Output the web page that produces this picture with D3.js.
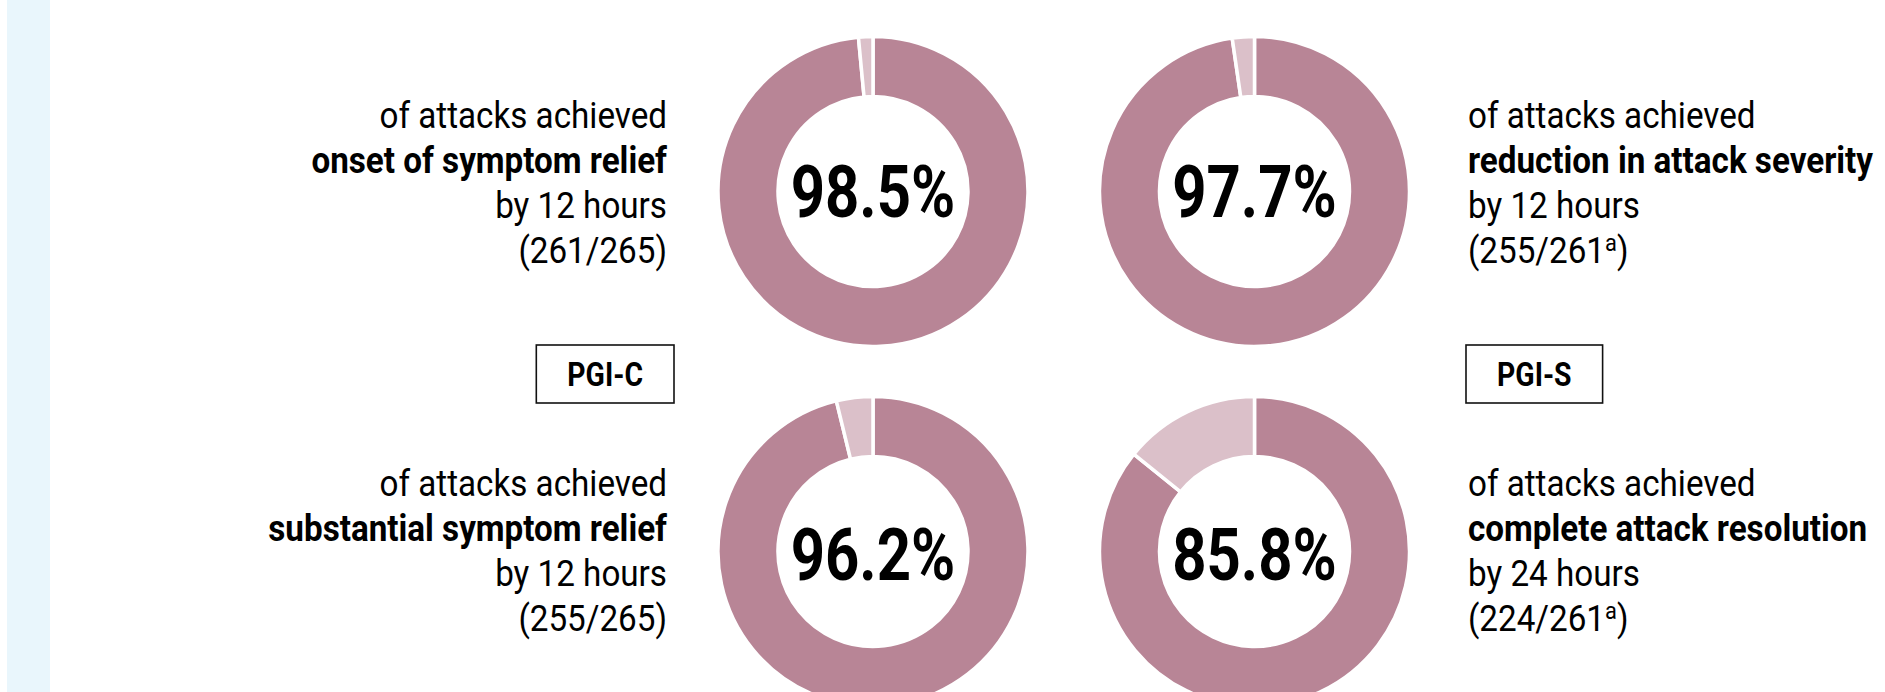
<!DOCTYPE html>
<html>
<head>
<meta charset="utf-8">
<script src="https://cdn.jsdelivr.net/npm/d3@7"></script>
<style>
  html, body { margin: 0; padding: 0; background: #ffffff; }
  svg { display: block; }
  text { font-family: Roboto, "Noto Sans", sans-serif; fill: #000; }
</style>
</head>
<body>
<svg id="chart" width="1885" height="692"></svg>
<script>
// ---- data ----
const outcomes = ["onset of symptom relief", "reduction in attack severity", "substantial symptom relief", "complete attack resolution"];
const percents = [98.5, 97.7, 96.2, 85.8];
const numerators = [261, 255, 255, 224];
const denominators = [265, 261, 265, 261];
const timeLabels = ["by 12 hours", "by 12 hours", "by 12 hours", "by 24 hours"];
const footnotes = ["", "a", "", "a"];
const scaleLabels = ["PGI-C", "PGI-S"];
const leadText = "of attacks achieved";

// ---- layout ----
const W = 1885, H = 692;
const svg = d3.select("#chart");
const colX = d3.scalePoint().domain([0, 1]).range([873, 1254.5]);
const rowY = d3.scalePoint().domain([0, 1]).range([191.5, 551.5]);
const outerR = 155, innerR = 95;
const mainColor = "#b88596", restColor = "#dbc0c9";
const condense = 0.91;   // emulate a condensed face

// left pale blue strip
svg.append("rect").attr("x", 7).attr("y", 0).attr("width", 43).attr("height", H).attr("fill", "#e9f6fc");

const pie = d3.pie().sort(null).value(d => d);
const arc = d3.arc().innerRadius(innerR).outerRadius(outerR);

percents.forEach((p, i) => {
  const col = i % 2, row = Math.floor(i / 2);
  const cx = colX(col), cy = rowY(row);
  const g = svg.append("g").attr("transform", `translate(${cx},${cy})`);
  g.selectAll("path").data(pie([p, 100 - p])).join("path")
    .attr("d", arc)
    .attr("fill", (d, j) => j === 0 ? mainColor : restColor)
    .attr("stroke", "#fff").attr("stroke-width", 3.5).attr("stroke-linejoin", "miter");
  g.append("text")
    .attr("transform", `translate(0,${row === 0 ? 25 : 28}) scale(0.82,1)`)
    .attr("text-anchor", "middle")
    .attr("font-size", 73).attr("font-weight", 700)
    .text(d3.format(".1f")(p) + "%");

  // description text
  const left = col === 0;
  const tx = left ? 667 : 1468;
  const anchor = left ? "end" : "start";
  const baseY = row === 0 ? 128 : 496;
  const lh = 45;
  const tg = svg.append("g").attr("transform", `translate(${tx},0) scale(${condense},1)`);
  const mk = (y, txt, bold) => tg.append("text").attr("x", 0).attr("y", y)
      .attr("text-anchor", anchor).attr("font-size", 36.5)
      .attr("font-weight", bold ? 700 : 400).text(txt);
  mk(baseY, leadText, false);
  mk(baseY + lh, outcomes[i], true);
  mk(baseY + 2 * lh, timeLabels[i], false);
  const last = tg.append("text").attr("x", 0).attr("y", baseY + 3 * lh)
      .attr("text-anchor", anchor).attr("font-size", 36.5);
  last.append("tspan").text(`(${numerators[i]}/${denominators[i]}`);
  if (footnotes[i]) {
    last.append("tspan").attr("font-size", 24).attr("dy", -12).text(footnotes[i]);
    last.append("tspan").attr("dy", 12).text(")");
  } else {
    last.append("tspan").text(")");
  }
});

// PGI boxes
scaleLabels.forEach((lab, k) => {
  const g = svg.append("g");
  const sx = 0.86;
  const t = g.append("text").attr("font-size", 33).attr("font-weight", 700)
    .attr("text-anchor", "middle").text(lab);
  const w = t.node().getComputedTextLength() * sx + 62;
  const x0 = k === 0 ? 674 - w : 1466;
  t.attr("transform", `translate(${x0 + w / 2},386) scale(${sx},1)`);
  g.insert("rect", "text").attr("x", x0).attr("y", 345).attr("width", w).attr("height", 58)
    .attr("fill", "none").attr("stroke", "#111").attr("stroke-width", 1.6);
});
</script>
</body>
</html>
